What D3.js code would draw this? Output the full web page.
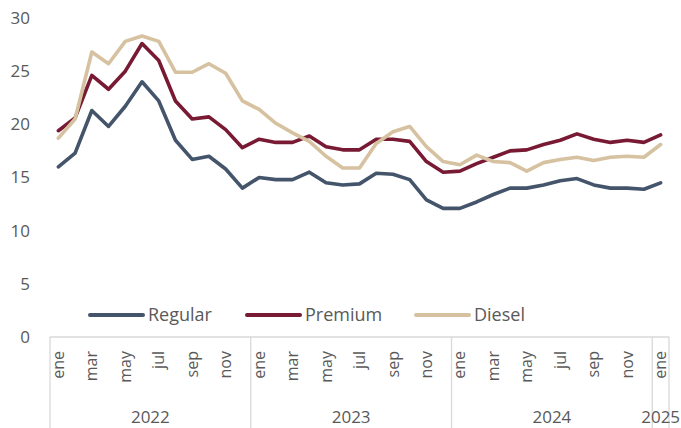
<!DOCTYPE html>
<html>
<head>
<meta charset="utf-8">
<script src="https://cdn.jsdelivr.net/npm/d3@7"></script>
<style>
  html, body { margin: 0; padding: 0; background: #fff; }
  svg { display: block; font-family: "Open Sans", "Noto Sans", sans-serif; }
</style>
</head>
<body>
<svg id="chart" width="681" height="428"></svg>
<script>
// monthly prices, ene 2022 .. ene 2025
const MONTHS = ['ene', 'feb', 'mar', 'abr', 'may', 'jun', 'jul', 'ago', 'sep', 'oct', 'nov', 'dic'];
const YEARS = ['2022', '2023', '2024', '2025'];
const YEAR_MONTHS = [12, 12, 12, 1];

const regular = [16.0, 17.3, 21.3, 19.8, 21.7, 24.0, 22.2, 18.5, 16.7, 17.0, 15.8, 14.0,
                 15.0, 14.8, 14.8, 15.5, 14.5, 14.3, 14.4, 15.4, 15.3, 14.8, 12.9, 12.1,
                 12.1, 12.7, 13.4, 14.0, 14.0, 14.3, 14.7, 14.9, 14.3, 14.0, 14.0, 13.9,
                 14.5];
const premium = [19.4, 20.6, 24.6, 23.3, 25.0, 27.6, 26.0, 22.2, 20.5, 20.7, 19.5, 17.8,
                 18.6, 18.3, 18.3, 18.9, 17.9, 17.6, 17.6, 18.6, 18.6, 18.4, 16.5, 15.5,
                 15.6, 16.3, 16.9, 17.5, 17.6, 18.1, 18.5, 19.1, 18.6, 18.3, 18.5, 18.3,
                 19.0];
const diesel  = [18.7, 20.5, 26.8, 25.7, 27.8, 28.3, 27.8, 24.9, 24.9, 25.7, 24.8, 22.2,
                 21.4, 20.1, 19.2, 18.4, 17.0, 15.9, 15.9, 18.2, 19.3, 19.8, 17.9, 16.5,
                 16.2, 17.1, 16.5, 16.4, 15.6, 16.4, 16.7, 16.9, 16.6, 16.9, 17.0, 16.9,
                 18.1];
const Y_TICKS = [0, 5, 10, 15, 20, 25, 30];

const SERIES = [
  { name: 'Regular', c: '#44546a', v: regular },
  { name: 'Premium', c: '#781a33', v: premium },
  { name: 'Diesel',  c: '#d6c1a0', v: diesel },
];

// build the month categories from the year groups
const CATS = [];
YEARS.forEach((y, yi) => {
  for (let m = 0; m < YEAR_MONTHS[yi]; m++) CATS.push({ y: y, m: MONTHS[m], mi: m });
});

const svg = d3.select('#chart');
const L = 50, R = 669, T = 18, B = 337;
const AX = '#d9d9d9', TXT = '#595959';

const x = d3.scaleBand().domain(d3.range(CATS.length)).range([L, R]);
const cx = i => x(i) + x.bandwidth() / 2;
const y = d3.scaleLinear().domain([0, 30]).range([B, T]);

// y tick labels
svg.append('g').selectAll('text').data(Y_TICKS).join('text')
  .attr('x', 30).attr('y', d => y(d)).attr('dy', '0.35em')
  .attr('text-anchor', 'end').attr('font-size', 17).attr('fill', TXT)
  .text(d => d);

// category axis: baseline + year separators
const gA = svg.append('g');
gA.append('line').attr('x1', L).attr('x2', R).attr('y1', B).attr('y2', B)
  .attr('stroke', AX).attr('stroke-width', 1.3);

let start = 0;
const groups = YEARS.map((yr, yi) => {
  const g = { yr: yr, a: start, b: start + YEAR_MONTHS[yi] - 1 };
  start += YEAR_MONTHS[yi];
  return g;
});
const seps = groups.map(g => x(g.a)).concat([R]);
gA.selectAll('line.sep').data(seps).join('line').attr('class', 'sep')
  .attr('x1', d => d).attr('x2', d => d).attr('y1', B).attr('y2', 428)
  .attr('stroke', AX).attr('stroke-width', 1.3);

// month labels, every other month, rotated
gA.selectAll('text.mon').data(CATS.map((c, i) => ({ c, i })).filter(d => d.c.mi % 2 === 0))
  .join('text').attr('class', 'mon')
  .attr('transform', d => `translate(${cx(d.i)},351) rotate(-90)`)
  .attr('dy', '0.35em').attr('text-anchor', 'end')
  .attr('font-size', 16).attr('fill', TXT)
  .text(d => d.c.m);

// year labels
gA.selectAll('text.yr').data(groups).join('text').attr('class', 'yr')
  .attr('x', d => (x(d.a) + x(d.b) + x.bandwidth()) / 2).attr('y', 417)
  .attr('dy', '0.35em').attr('text-anchor', 'middle')
  .attr('font-size', 17).attr('fill', TXT)
  .text(d => d.yr);

// lines
const line = d3.line().x((d, i) => cx(i)).y(d => y(d)).curve(d3.curveLinear);
svg.append('g').selectAll('path').data(SERIES).join('path')
  .attr('d', d => line(d.v))
  .attr('fill', 'none').attr('stroke', d => d.c).attr('stroke-width', 3.6)
  .attr('stroke-linejoin', 'round').attr('stroke-linecap', 'round');

// legend
const LEG_X = [90, 247, 416];
const gL = svg.append('g').selectAll('g').data(SERIES).join('g')
  .attr('transform', (d, i) => `translate(${LEG_X[i]},315)`);
gL.append('line').attr('x1', 0).attr('x2', 53).attr('y1', 0).attr('y2', 0)
  .attr('stroke', d => d.c).attr('stroke-width', 4).attr('stroke-linecap', 'round');
gL.append('text').attr('x', 58).attr('dy', '0.35em')
  .attr('font-size', 18).attr('fill', TXT)
  .text(d => d.name);
</script>
</body>
</html>
